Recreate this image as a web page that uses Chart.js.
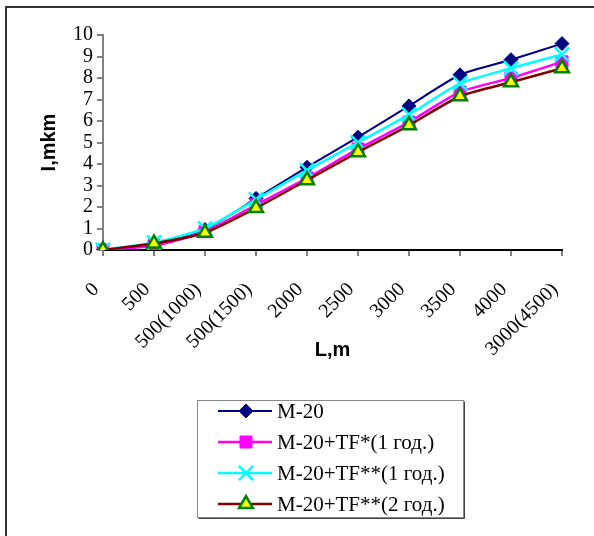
<!DOCTYPE html>
<html>
<head>
<meta charset="utf-8">
<title>I,mkm - L,m</title>
<script src="https://cdn.jsdelivr.net/npm/chart.js@4.4.1/dist/chart.umd.min.js"></script>
<style>
    html, body { margin: 0; padding: 0; background: #ffffff; }
    #wrap { position: relative; width: 594px; height: 536px; }
</style>
</head>
<body>
<div id="wrap"><canvas id="lineChart" width="594" height="536"></canvas></div>
<script>
// datos
const etiquetasL = ['0', '500', '500(1000)', '500(1500)', '2000', '2500', '3000', '3500', '4000', '3000(4500)'];
const nombresSeries = ['M-20', 'M-20+TF*(1 год.)', 'M-20+TF**(1 год.)', 'M-20+TF**(2 год.)'];
const valoresM20 = [0, 0.3, 0.95, 2.4, 3.85, 5.25, 6.7, 8.15, 8.85, 9.6];
const valoresTF1 = [0, 0.2, 0.85, 2.1, 3.35, 4.7, 5.95, 7.35, 8.0, 8.75];
const valoresTF2a = [0, 0.35, 1.0, 2.35, 3.7, 5.0, 6.3, 7.75, 8.45, 9.1];
const valoresTF2b = [0, 0.3, 0.8, 1.95, 3.25, 4.55, 5.8, 7.15, 7.8, 8.45];
const ticksY = [0, 1, 2, 3, 4, 5, 6, 7, 8, 9, 10];

const serif = "'Liberation Serif', 'Times New Roman', serif";
const sans = "'Liberation Sans', Arial, sans-serif";

// marco de la figura (solo borde superior e izquierdo visibles)
const framePlugin = {
    id: 'frame',
    beforeDraw(chart) {
        const c = chart.ctx;
        c.save();
        c.strokeStyle = '#333333';
        c.lineWidth = 2;
        c.beginPath();
        c.moveTo(6, 536);
        c.lineTo(6, 7);
        c.lineTo(594, 7);
        c.stroke();
        c.restore();
    }
};

// leyenda en caja, un elemento por fila
const boxLegendPlugin = {
    id: 'boxLegend',
    afterDraw(chart) {
        const c = chart.ctx;
        const x0 = 197, y0 = 400, w = 266, h = 117;
        c.save();
        c.fillStyle = '#ffffff';
        c.fillRect(x0, y0, w, h);
        c.strokeStyle = '#888888';
        c.lineWidth = 1;
        c.strokeRect(x0 + 0.5, y0 + 0.5, w, h);
        c.strokeStyle = '#444444';
        c.beginPath();
        c.moveTo(x0 + 1.5, y0 + h + 1.5);
        c.lineTo(x0 + w + 1.5, y0 + h + 1.5);
        c.lineTo(x0 + w + 1.5, y0 + 1.5);
        c.stroke();

        chart.data.datasets.forEach((ds, i) => {
            const y = 411 + i * 31;
            c.strokeStyle = ds.borderColor;
            c.lineWidth = ds.borderWidth;
            c.beginPath();
            c.moveTo(218, y);
            c.lineTo(272, y);
            c.stroke();

            c.fillStyle = ds.pointBackgroundColor;
            c.strokeStyle = ds.pointBorderColor;
            c.lineWidth = ds.pointBorderWidth;
            if (Chart.helpers && Chart.helpers.drawPoint) {
                Chart.helpers.drawPoint(c, {
                    pointStyle: ds.pointStyle,
                    radius: ds.pointRadius,
                    rotation: 0,
                    borderWidth: ds.pointBorderWidth
                }, 246, y);
            }

            c.fillStyle = '#000000';
            c.font = '21px ' + serif;
            c.textAlign = 'left';
            c.textBaseline = 'middle';
            c.fillText(ds.label, 277, y + 1);
        });
        c.restore();
    }
};

function crearGrafica() {
    const ctx = document.getElementById('lineChart');

    const datasets = [
        {
            label: nombresSeries[0],
            data: valoresM20,
            borderColor: '#000080',
            borderWidth: 2,
            pointStyle: 'rectRot',
            pointRadius: 7,
            pointBackgroundColor: '#000080',
            pointBorderColor: '#000080',
            pointBorderWidth: 1,
            order: 4
        },
        {
            label: nombresSeries[1],
            data: valoresTF1,
            borderColor: '#ff00ff',
            borderWidth: 2.5,
            pointStyle: 'rect',
            pointRadius: 8.5,
            pointBackgroundColor: '#ff00ff',
            pointBorderColor: '#ff00ff',
            pointBorderWidth: 1,
            order: 3
        },
        {
            label: nombresSeries[2],
            data: valoresTF2a,
            borderColor: '#00ffff',
            borderWidth: 2.5,
            pointStyle: 'crossRot',
            pointRadius: 10,
            pointBackgroundColor: '#00ffff',
            pointBorderColor: '#00ffff',
            pointBorderWidth: 2.5,
            order: 2
        },
        {
            label: nombresSeries[3],
            data: valoresTF2b,
            borderColor: '#800000',
            borderWidth: 2.5,
            pointStyle: 'triangle',
            pointRadius: 8,
            pointBackgroundColor: '#ffff00',
            pointBorderColor: '#008000',
            pointBorderWidth: 2.5,
            order: 1
        }
    ];
    datasets.forEach(ds => {
        ds.tension = 0.2;
        ds.fill = false;
        ds.pointHoverRadius = ds.pointRadius;
    });

    const options = {
        responsive: false,
        animation: false,
        layout: {
            padding: { left: 0, top: 35, right: 32, bottom: 170 }
        },
        scales: {
            x: {
                type: 'category',
                offset: false,
                afterFit: function(scale) {
                    scale.height = 116;
                    scale.paddingLeft = 0;
                    scale.paddingRight = 0;
                },
                grid: {
                    display: true,
                    drawOnChartArea: false,
                    drawTicks: true,
                    tickLength: 6,
                    color: '#808080',
                    lineWidth: 2
                },
                border: { display: true, color: '#000000', width: 2 },
                ticks: {
                    autoSkip: false,
                    minRotation: 45,
                    maxRotation: 45,
                    padding: 22,
                    labelOffset: -7,
                    color: '#000000',
                    font: { family: serif, size: 20 }
                },
                title: {
                    display: true,
                    text: 'L,m',
                    color: '#000000',
                    padding: { top: 0, bottom: 4 },
                    font: { family: sans, size: 20, weight: 'bold' }
                }
            },
            y: {
                min: 0,
                max: 10,
                afterFit: function(scale) { scale.width = 103; },
                afterBuildTicks: function(scale) {
                    scale.ticks = ticksY.map(v => ({ value: v }));
                },
                grid: {
                    display: true,
                    drawOnChartArea: false,
                    drawTicks: true,
                    tickLength: 6,
                    color: '#808080',
                    lineWidth: 2
                },
                border: { display: true, color: '#808080', width: 2 },
                ticks: {
                    autoSkip: false,
                    stepSize: 1,
                    padding: 4,
                    color: '#000000',
                    font: { family: serif, size: 20 }
                },
                title: {
                    display: true,
                    text: 'I,mkm',
                    color: '#000000',
                    padding: { top: 37, bottom: 0 },
                    font: { family: sans, size: 20, weight: 'bold' }
                }
            }
        },
        plugins: {
            legend: { display: false },
            title: { display: false },
            tooltip: { enabled: false }
        }
    };

    return new Chart(ctx, {
        type: 'line',
        data: { labels: etiquetasL, datasets: datasets },
        options: options,
        plugins: [framePlugin, boxLegendPlugin]
    });
}

crearGrafica();
</script>
</body>
</html>
